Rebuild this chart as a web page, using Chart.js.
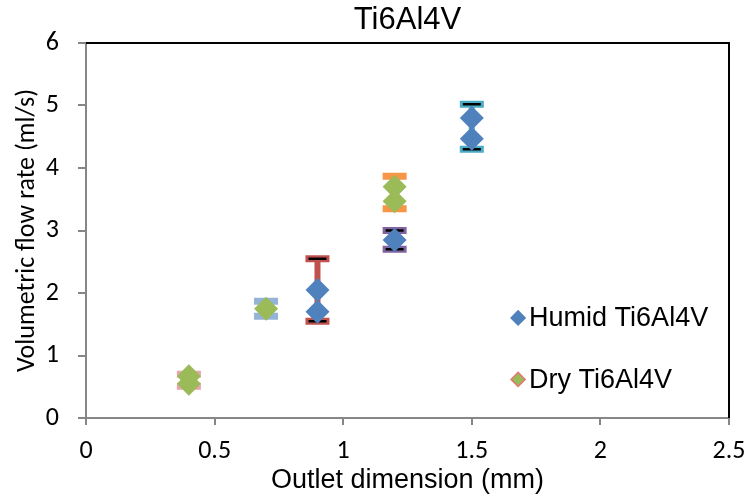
<!DOCTYPE html>
<html>
<head>
<meta charset="utf-8">
<script src="https://cdn.jsdelivr.net/npm/chart.js@4"></script>
<style>
  html, body { margin: 0; padding: 0; background: #fff; }
  #wrap { width: 747px; height: 497px; }
</style>
</head>
<body>
<div id="wrap"><canvas id="flow"></canvas></div>
<script>
// outlet dimension (mm) and measured flow rate (ml/s)
const humidX = [0.9, 0.9, 1.2, 1.5, 1.5];
const humidY = [2.05, 1.70, 2.85, 4.80, 4.47];
const dryX = [0.4, 0.4, 0.7, 1.2, 1.2];
const dryY = [0.67, 0.55, 1.75, 3.70, 3.47];

// error bars, one per outlet group
const errX = [0.4, 0.7, 0.9, 1.2, 1.2, 1.5];
const errLow = [0.51, 1.63, 1.55, 3.35, 2.70, 4.30];
const errHigh = [0.70, 1.87, 2.55, 3.87, 3.00, 5.02];

const xTicks = [0, 0.5, 1, 1.5, 2, 2.5];
const yTicks = [0, 1, 2, 3, 4, 5, 6];

const errColors = ['#E8A3AB', '#95B3D7', '#C0504D', '#F79646', '#8064A2', '#4BACC6'];
const errInner = [null, null, '#000', null, '#000', '#000'];

const calibri = "Carlito, 'Open Sans', 'Liberation Sans', sans-serif";
const arial = "'Liberation Sans', Arial, sans-serif";

const errorBars = {
  id: 'errorBars',
  beforeDatasetsDraw(chart) {
    const { ctx, scales: { x, y } } = chart;
    ctx.save();
    errX.forEach((v, i) => {
      const px = x.getPixelForValue(v);
      const top = y.getPixelForValue(errHigh[i]);
      const bot = y.getPixelForValue(errLow[i]);
      ctx.strokeStyle = errColors[i];
      ctx.lineCap = 'butt';
      ctx.lineWidth = 6;
      ctx.beginPath();
      ctx.moveTo(px, top);
      ctx.lineTo(px, bot);
      ctx.stroke();
      ctx.lineWidth = 7;
      ctx.beginPath();
      ctx.moveTo(px - 12, top); ctx.lineTo(px + 12, top);
      ctx.moveTo(px - 12, bot); ctx.lineTo(px + 12, bot);
      ctx.stroke();
      if (errInner[i]) {
        ctx.strokeStyle = errInner[i];
        ctx.lineWidth = 2.5;
        ctx.beginPath();
        ctx.moveTo(px - 9, top); ctx.lineTo(px + 9, top);
        ctx.moveTo(px - 9, bot); ctx.lineTo(px + 9, bot);
        ctx.stroke();
      }
    });
    ctx.restore();
  }
};

// black top/right frame plus the legend inside the plot
const frameAndLegend = {
  id: 'frameAndLegend',
  afterDraw(chart) {
    const { ctx, chartArea: a } = chart;
    ctx.save();
    ctx.strokeStyle = '#000';
    ctx.lineWidth = 2;
    ctx.beginPath();
    ctx.moveTo(a.left, a.top);
    ctx.lineTo(a.right, a.top);
    ctx.lineTo(a.right, a.bottom);
    ctx.stroke();

    const items = chart.data.datasets;
    const lx = a.left + (a.right - a.left) * 0.672;
    const ys = [a.top + (a.bottom - a.top) * 0.733, a.top + (a.bottom - a.top) * 0.897];
    ctx.font = '27px ' + arial;
    ctx.textBaseline = 'middle';
    items.forEach((ds, i) => {
      const cy = ys[i];
      ctx.beginPath();
      ctx.moveTo(lx, cy - 7);
      ctx.lineTo(lx + 7, cy);
      ctx.lineTo(lx, cy + 7);
      ctx.lineTo(lx - 7, cy);
      ctx.closePath();
      ctx.fillStyle = ds.backgroundColor;
      ctx.fill();
      ctx.lineWidth = 1.5;
      ctx.strokeStyle = ds.legendBorder;
      ctx.stroke();
      ctx.fillStyle = '#000';
      ctx.fillText(ds.label, lx + 11, cy + 1);
    });
    ctx.restore();
  }
};

new Chart(document.getElementById('flow'), {
  type: 'scatter',
  data: {
    datasets: [
      {
        label: 'Humid Ti6Al4V',
        data: humidX.map((v, i) => ({ x: v, y: humidY[i] })),
        backgroundColor: '#4F81BD',
        borderColor: '#4F81BD',
        legendBorder: '#4F81BD',
        pointStyle: 'rectRot',
        pointRadius: 12,
        pointHoverRadius: 12,
        borderWidth: 0
      },
      {
        label: 'Dry Ti6Al4V',
        data: dryX.map((v, i) => ({ x: v, y: dryY[i] })),
        backgroundColor: '#9BBB59',
        borderColor: '#9BBB59',
        legendBorder: '#E07A70',
        pointStyle: 'rectRot',
        pointRadius: 12,
        pointHoverRadius: 12,
        borderWidth: 0
      }
    ]
  },
  options: {
    responsive: true,
    maintainAspectRatio: false,
    animation: false,
    layout: { padding: { right: 18 } },
    plugins: {
      legend: { display: false },
      tooltip: { enabled: false },
      title: {
        display: true,
        text: 'Ti6Al4V',
        fullSize: false,
        color: '#000',
        font: { family: arial, size: 31, weight: 'normal' },
        padding: { top: 2, bottom: 3.8 }
      }
    },
    scales: {
      x: {
        type: 'linear',
        min: 0,
        max: 2.5,
        afterBuildTicks: s => { s.ticks = xTicks.map(v => ({ value: v })); },
        afterFit: s => { s.height = 79; s.paddingLeft = 0; s.paddingRight = 0; },
        border: { color: '#868686', width: 2 },
        grid: { drawOnChartArea: false, drawTicks: true, tickLength: 7, color: '#868686', lineWidth: 2 },
        ticks: {
          color: '#000',
          font: { family: calibri, size: 26 },
          padding: 11,
          maxRotation: 0,
          callback: v => String(v)
        },
        title: {
          display: true,
          text: 'Outlet dimension (mm)',
          color: '#000',
          font: { family: arial, size: 27 },
          padding: { top: 0, bottom: 0 }
        }
      },
      y: {
        min: 0,
        max: 6,
        afterBuildTicks: s => { s.ticks = yTicks.map(v => ({ value: v })); },
        afterFit: s => { s.width = 86; },
        border: { color: '#868686', width: 2 },
        grid: { drawOnChartArea: false, drawTicks: true, tickLength: 8, color: '#868686', lineWidth: 2 },
        ticks: { color: '#000', font: { family: calibri, size: 26 }, padding: 19, callback: v => String(v) },
        title: {
          display: true,
          text: 'Volumetric flow rate (ml/s)',
          color: '#000',
          font: { family: calibri, size: 26 },
          padding: { top: 12, bottom: 0 }
        }
      }
    }
  },
  plugins: [errorBars, frameAndLegend]
});
</script>
</body>
</html>
